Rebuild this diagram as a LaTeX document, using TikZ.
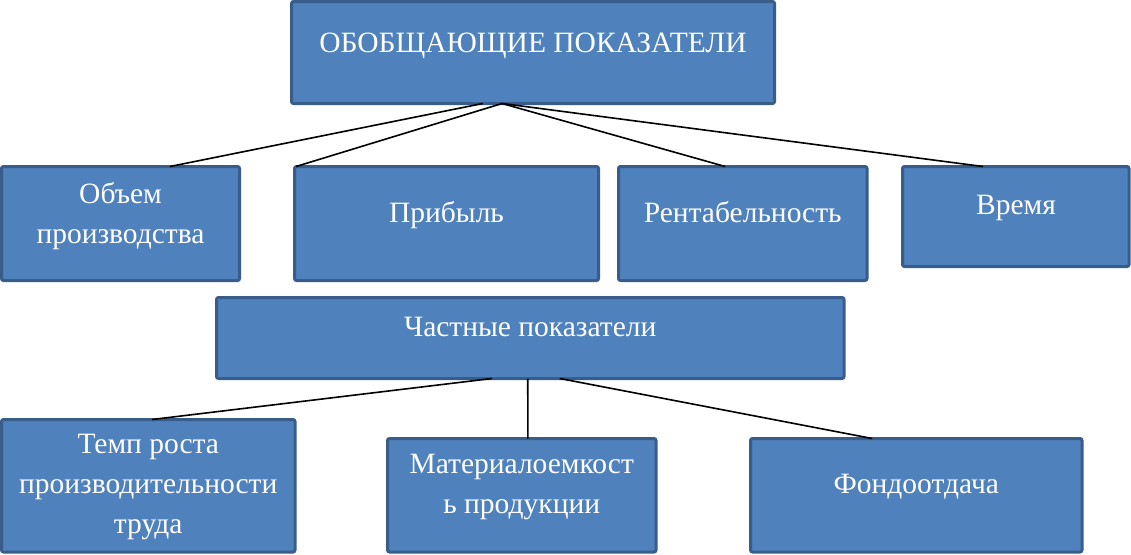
\documentclass[tikz,border=0pt]{standalone}
\usepackage{fontspec}
\setmainfont{Liberation Serif}
\usetikzlibrary{calc}
\definecolor{boxfill}{HTML}{4F81BD}
\definecolor{boxline}{HTML}{385D8A}
\tikzset{
  box/.style={draw=boxline, fill=boxfill, line width=3pt, rounded corners=2pt,
    rectangle, inner sep=0pt, outer sep=0pt},
  txt/.style={text=white, font=\fontsize{29.5}{40}\selectfont, align=center,
    inner sep=0pt, anchor=base},
  link/.style={draw=black, line width=1.6pt}
}
\begin{document}
\begin{tikzpicture}[x=1pt,y=-1pt]
\useasboundingbox (0,0) rectangle (1131,554);
% boxes
\node[box, minimum width=483pt, minimum height=102pt] (top) at (533,52.5) {};
\node[box, minimum width=238pt, minimum height=114pt] (obj) at (120.5,223.5) {};
\node[box, minimum width=304pt, minimum height=114pt] (prib) at (446.5,223.5) {};
\node[box, minimum width=248.5pt, minimum height=114pt] (rent) at (742.75,223.5) {};
\node[box, minimum width=226.5pt, minimum height=100pt] (vrem) at (1015.75,216.5) {};
\node[box, minimum width=627.5pt, minimum height=81pt] (chast) at (530.25,338) {};
\node[box, minimum width=293.5pt, minimum height=132.5pt] (temp) at (148.25,485.75) {};
\node[box, minimum width=268.5pt, minimum height=113.5pt] (mat) at (521.75,495.25) {};
\node[box, minimum width=331.5pt, minimum height=113.5pt] (fond) at (916.25,495.25) {};
% texts (anchor base = baseline of last line)
\node[txt] (ttop) at (533,52) {ОБОБЩАЮЩИЕ ПОКАЗАТЕЛИ};
\node[txt] (tobj) at (120.5,243) {Объем\\производства};
\node[txt] (tprib) at (446.5,222) {Прибыль};
\node[txt] (trent) at (742.75,222) {Рентабельность};
\node[txt] (tvrem) at (1016,214) {Время};
\node[txt] (tchast) at (530.25,336) {Частные показатели};
\node[txt] (ttemp) at (148.25,533) {Темп роста\\производительности\\труда};
\node[txt] (tmat) at (521.75,513) {Материалоемкост\\ь продукции};
\node[txt] (tfond) at (916.25,493) {Фондоотдача};
% connectors
\draw[link] ($(top.south west)!0.396!(top.south east)$) -- ($(obj.north west)!0.708!(obj.north east)$);
\draw[link] ($(top.south west)!0.436!(top.south east)$) -- ($(prib.north west)!0.005!(prib.north east)$);
\draw[link] ($(top.south west)!0.436!(top.south east)$) -- ($(rent.north west)!0.429!(rent.north east)$);
\draw[link] ($(top.south west)!0.436!(top.south east)$) -- ($(vrem.north west)!0.355!(vrem.north east)$);
\draw[link] ($(chast.south west)!0.439!(chast.south east)$) -- ($(temp.north west)!0.513!(temp.north east)$);
\draw[link] ($(chast.south west)!0.496!(chast.south east)$) -- ($(mat.north west)!0.523!(mat.north east)$);
\draw[link] ($(chast.south west)!0.547!(chast.south east)$) -- ($(fond.north west)!0.367!(fond.north east)$);
\end{tikzpicture}
\end{document}
